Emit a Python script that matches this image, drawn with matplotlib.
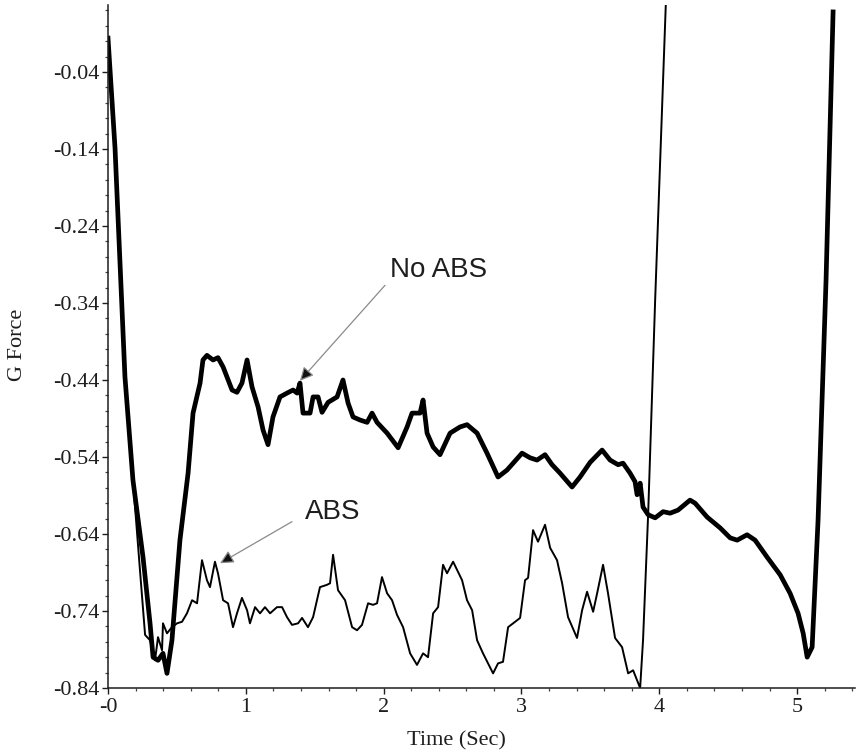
import matplotlib
matplotlib.use("Agg")
import matplotlib.pyplot as plt
from matplotlib.ticker import MultipleLocator

# No ABS run (thick line)
t_noabs = [0.000, 0.051, 0.123, 0.181, 0.254, 0.305, 0.327, 0.363, 0.399, 0.428,
           0.464, 0.522, 0.581, 0.617, 0.668, 0.689, 0.718, 0.762, 0.798, 0.835,
           0.900, 0.936, 0.972, 1.009, 1.045, 1.089, 1.125, 1.161, 1.197, 1.248,
           1.299, 1.343, 1.372, 1.393, 1.415, 1.466, 1.488, 1.524, 1.553, 1.597,
           1.662, 1.705, 1.742, 1.778, 1.829, 1.880, 1.916, 1.952, 2.025, 2.105,
           2.170, 2.206, 2.264, 2.286, 2.315, 2.359, 2.409, 2.482, 2.554, 2.605,
           2.678, 2.750, 2.830, 2.895, 3.004, 3.062, 3.113, 3.171, 3.222, 3.280,
           3.367, 3.425, 3.498, 3.585, 3.643, 3.701, 3.737, 3.788, 3.824, 3.839,
           3.861, 3.882, 3.919, 3.970, 4.028, 4.078, 4.136, 4.223, 4.260, 4.347,
           4.441, 4.514, 4.565, 4.637, 4.695, 4.782, 4.877, 4.949, 5.007, 5.044,
           5.073, 5.109, 5.152, 5.210, 5.261]
g_noabs = [0.004, -0.139, -0.436, -0.570, -0.670, -0.756, -0.800, -0.804, -0.795, -0.821,
           -0.778, -0.648, -0.561, -0.483, -0.444, -0.414, -0.408, -0.414, -0.411, -0.423,
           -0.453, -0.456, -0.444, -0.414, -0.449, -0.475, -0.505, -0.524, -0.488, -0.462,
           -0.457, -0.453, -0.457, -0.444, -0.483, -0.483, -0.462, -0.462, -0.482, -0.469,
           -0.462, -0.440, -0.470, -0.488, -0.492, -0.495, -0.483, -0.495, -0.509, -0.528,
           -0.501, -0.483, -0.483, -0.466, -0.509, -0.527, -0.537, -0.509, -0.501, -0.498,
           -0.509, -0.535, -0.566, -0.557, -0.535, -0.541, -0.544, -0.537, -0.550, -0.561,
           -0.579, -0.566, -0.547, -0.531, -0.544, -0.550, -0.548, -0.561, -0.572, -0.589,
           -0.574, -0.605, -0.615, -0.619, -0.611, -0.613, -0.609, -0.596, -0.600, -0.618,
           -0.632, -0.645, -0.648, -0.641, -0.648, -0.670, -0.693, -0.717, -0.743, -0.769,
           -0.800, -0.787, -0.622, -0.310, 0.038]

# ABS run (thin line)
t_abs = [0.000, 0.051, 0.123, 0.181, 0.232, 0.269, 0.305, 0.341, 0.363, 0.392,
         0.399, 0.428, 0.464, 0.501, 0.537, 0.573, 0.610, 0.646, 0.682, 0.718,
         0.740, 0.776, 0.798, 0.835, 0.871, 0.907, 0.936, 0.972, 1.009, 1.030,
         1.067, 1.103, 1.139, 1.176, 1.226, 1.263, 1.299, 1.335, 1.379, 1.408,
         1.451, 1.488, 1.538, 1.589, 1.611, 1.633, 1.669, 1.720, 1.771, 1.807,
         1.843, 1.887, 1.923, 1.952, 1.988, 2.025, 2.061, 2.097, 2.141, 2.192,
         2.242, 2.286, 2.322, 2.359, 2.395, 2.431, 2.460, 2.504, 2.569, 2.605,
         2.642, 2.678, 2.721, 2.794, 2.830, 2.866, 2.903, 2.954, 2.990, 3.026,
         3.048, 3.084, 3.120, 3.171, 3.208, 3.258, 3.295, 3.338, 3.403, 3.440,
         3.476, 3.520, 3.549, 3.592, 3.628, 3.679, 3.730, 3.774, 3.810, 3.861,
         3.882, 3.919, 3.970, 4.064]
g_abs = [0.004, -0.139, -0.436, -0.570, -0.687, -0.771, -0.778, -0.804, -0.774, -0.791,
         -0.756, -0.769, -0.761, -0.756, -0.754, -0.743, -0.726, -0.730, -0.674, -0.700,
         -0.709, -0.676, -0.691, -0.726, -0.730, -0.761, -0.743, -0.723, -0.739, -0.756,
         -0.735, -0.743, -0.735, -0.743, -0.735, -0.735, -0.748, -0.758, -0.756, -0.749,
         -0.761, -0.748, -0.709, -0.706, -0.704, -0.667, -0.713, -0.726, -0.761, -0.765,
         -0.758, -0.730, -0.732, -0.730, -0.696, -0.717, -0.726, -0.745, -0.761, -0.795,
         -0.810, -0.795, -0.800, -0.743, -0.735, -0.680, -0.691, -0.676, -0.700, -0.726,
         -0.739, -0.778, -0.795, -0.821, -0.808, -0.806, -0.761, -0.754, -0.749, -0.700,
         -0.697, -0.635, -0.650, -0.628, -0.658, -0.674, -0.704, -0.748, -0.775, -0.739,
         -0.715, -0.741, -0.717, -0.680, -0.717, -0.775, -0.787, -0.821, -0.817, -0.840,
         -0.778, -0.615, -0.336, 0.131]

y_ticks = [-0.84, -0.74, -0.64, -0.54, -0.44, -0.34, -0.24, -0.14, -0.04]
x_ticks = [0, 1, 2, 3, 4, 5]
x_labels = ['-0', '1', '2', '3', '4', '5']

serif = 'Liberation Serif'
sans = 'Liberation Sans'
ink = '#1e1e1e'

fig = plt.figure(figsize=(8.6, 7.55), dpi=100)
ax = fig.add_axes([108 / 860, 67 / 755, 747 / 860, 683 / 755])

ax.plot(t_noabs, g_noabs, color='black', lw=3.4, solid_joinstyle='round')
ax.plot(t_abs, g_abs, color='black', lw=1.4, solid_joinstyle='round')

ax.set_xlim(0, 5.42)
ax.set_ylim(-0.84, 0.047)

ax.spines['top'].set_visible(False)
ax.spines['right'].set_visible(False)
for s in ['left', 'bottom']:
    ax.spines[s].set_linewidth(1.1)
    ax.spines[s].set_color(ink)

ax.set_yticks(y_ticks)
ax.set_yticklabels(['%.2f' % v for v in y_ticks])
ax.set_xticks(x_ticks)
ax.set_xticklabels(x_labels)
ax.xaxis.set_minor_locator(MultipleLocator(0.2))
ax.yaxis.set_minor_locator(MultipleLocator(0.02))
ax.tick_params(which='major', direction='out', length=4, width=1.0,
               color=ink, labelsize=16, pad=2)
ax.tick_params(which='minor', direction='out', length=2, width=0.9,
               color='#444444')
ax.tick_params(axis='x', which='major', pad=3)
for lab in ax.get_xticklabels() + ax.get_yticklabels():
    lab.set_family(serif)
    lab.set_color(ink)

# axis titles
fig.text(456 / 860, 1 - 741 / 755, 'Time (Sec)', family=serif, fontsize=16,
         color=ink, ha='center', va='center')
fig.text(18 / 860, 1 - 345 / 755, 'G Force', rotation=90, family=serif,
         fontsize=16, color=ink, ha='center', va='center')

# annotations
arrow = dict(arrowstyle='-|>', ec='#8a8a8a', fc='#111111', lw=0.9,
             mutation_scale=20, shrinkA=0, shrinkB=0)
ax.text(2.046, -0.297, 'No ABS', family=sans, fontsize=20, color=ink,
        ha='left', va='center')
ax.annotate('', xy=(1.393, -0.441), xytext=(2.010, -0.317), arrowprops=arrow)
ax.text(1.430, -0.611, 'ABS', family=sans, fontsize=20, color=ink,
        ha='left', va='center')
ax.annotate('', xy=(0.813, -0.678), xytext=(1.335, -0.624), arrowprops=arrow)

fig.savefig('out.png', dpi=100)
